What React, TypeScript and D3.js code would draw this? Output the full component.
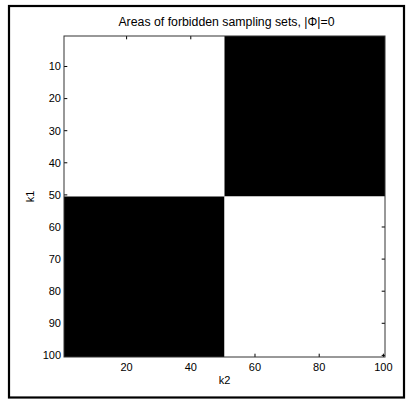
import React from "react";
import * as d3 from "d3";

const title = "Areas of forbidden sampling sets, |\u03A6|=0";
const xLabel = "k2";
const yLabel = "k1";
// block structure of the 100x100 image: row ranges (k1) x column ranges (k2)
const k1Ranges: [number, number][] = [[1, 50], [51, 100]];
const k2Ranges: [number, number][] = [[1, 50], [51, 100]];
const blockValues: number[][] = [
  [1, 0],
  [0, 1],
];
const xTicks = [20, 40, 60, 80, 100];
const yTicks = [10, 20, 30, 40, 50, 60, 70, 80, 90, 100];

const W = 406;
const H = 400;
const plot = { left: 64, top: 36, right: 385, bottom: 357 };
const font = "'Liberation Sans', Arial, Helvetica, sans-serif";

export default function App() {
  const x = d3.scaleLinear().domain([0.5, 100.5]).range([plot.left, plot.right]);
  const y = d3.scaleLinear().domain([0.5, 100.5]).range([plot.top, plot.bottom]);
  const color = d3.scaleLinear<string>().domain([0, 1]).range(["#000000", "#ffffff"]);
  const tickLen = 3.3;

  const cells: React.ReactElement[] = [];
  k1Ranges.forEach((r, i) => {
    k2Ranges.forEach((c, j) => {
      const x0 = x(c[0] - 0.5);
      const x1 = x(c[1] + 0.5);
      const y0 = y(r[0] - 0.5);
      const y1 = y(r[1] + 0.5);
      cells.push(
        <rect key={`${i}-${j}`} x={x0} y={y0} width={x1 - x0} height={y1 - y0} fill={color(blockValues[i][j])} />
      );
    });
  });

  return (
    <svg
      width={W}
      height={H}
      style={{ position: "absolute", left: 0, top: 0, background: "#fff" }}
      fontFamily={font}
    >
      <rect x={0} y={0} width={W} height={H} fill="#fff" />
      <rect x={9} y={6} width={395} height={391.5} fill="none" stroke="#000" strokeWidth={2.2} />
      {cells}
      {/* ticks */}
      {xTicks.map((t) => (
        <g key={"xt" + t}>
          <line x1={x(t)} x2={x(t)} y1={plot.bottom} y2={plot.bottom - tickLen} stroke="#000" strokeWidth={1} />
          <line x1={x(t)} x2={x(t)} y1={plot.top} y2={plot.top + tickLen} stroke="#000" strokeWidth={1} />
          <text x={x(t)} y={371} textAnchor="middle" fontSize={11} fill="#000">
            {t}
          </text>
        </g>
      ))}
      {yTicks.map((t) => (
        <g key={"yt" + t}>
          <line x1={plot.left} x2={plot.left + tickLen} y1={y(t)} y2={y(t)} stroke="#000" strokeWidth={1} />
          <line x1={plot.right} x2={plot.right - tickLen} y1={y(t)} y2={y(t)} stroke="#000" strokeWidth={1} />
          <text x={61} y={y(t)} dy="0.35em" textAnchor="end" fontSize={11} fill="#000">
            {t}
          </text>
        </g>
      ))}
      <rect
        x={plot.left}
        y={plot.top}
        width={plot.right - plot.left}
        height={plot.bottom - plot.top}
        fill="none"
        stroke="#333"
        strokeWidth={1}
      />
      <text x={(plot.left + plot.right) / 2 + 2} y={26} textAnchor="middle" fontSize={12.3} fill="#000">
        {title}
      </text>
      <text x={(plot.left + plot.right) / 2} y={384} textAnchor="middle" fontSize={11} fill="#000">
        {xLabel}
      </text>
      <text
        transform={`translate(34,${(plot.top + plot.bottom) / 2}) rotate(-90)`}
        textAnchor="middle"
        fontSize={11}
        fill="#000"
      >
        {yLabel}
      </text>
    </svg>
  );
}
